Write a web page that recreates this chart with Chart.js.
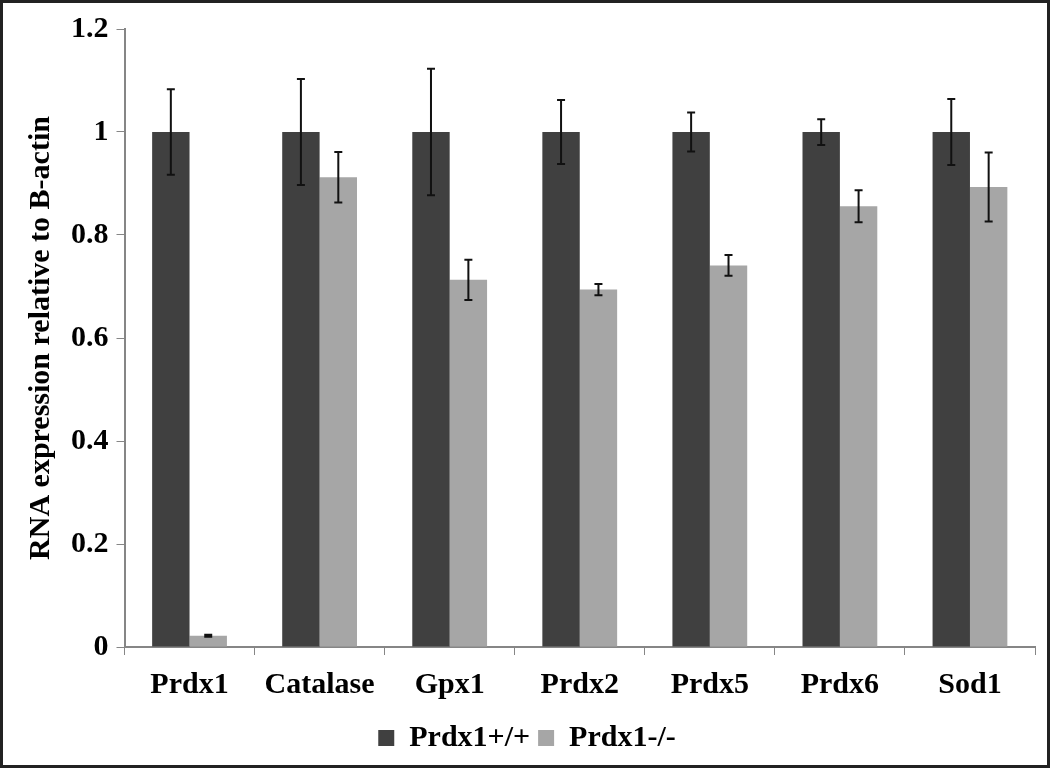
<!DOCTYPE html>
<html>
<head>
<meta charset="utf-8">
<script src="https://cdn.jsdelivr.net/npm/chart.js@4"></script>
<style>
  html, body { margin: 0; padding: 0; background: #fff; }
  #wrap { width: 1050px; height: 768px; box-sizing: border-box; border: 3px solid #222; position: relative; }
  canvas { display: block; }
</style>
</head>
<body>
<div id="wrap"><canvas id="barras" width="1044" height="762"></canvas></div>
<script>
// datos
const genes = ['Prdx1', 'Catalase', 'Gpx1', 'Prdx2', 'Prdx5', 'Prdx6', 'Sod1'];
const wildType = [1, 1, 1, 1, 1, 1, 1];
const wildTypeErr = [0.083, 0.103, 0.123, 0.062, 0.038, 0.025, 0.064];
const knockOut = [0.022, 0.912, 0.713, 0.694, 0.741, 0.856, 0.893];
const knockOutErr = [0.002, 0.049, 0.039, 0.011, 0.020, 0.031, 0.067];
const yTicks = [0, 0.2, 0.4, 0.6, 0.8, 1, 1.2];

// barras de error
const errorBars = {
  id: 'errorBars',
  afterDatasetsDraw(chart) {
    const ctx = chart.ctx;
    const y = chart.scales.y;
    const errs = [wildTypeErr, knockOutErr];
    ctx.save();
    ctx.strokeStyle = '#111';
    ctx.lineWidth = 2;
    chart.data.datasets.forEach((ds, i) => {
      chart.getDatasetMeta(i).data.forEach((bar, j) => {
        const v = ds.data[j], e = errs[i][j];
        const top = y.getPixelForValue(v + e);
        const bot = y.getPixelForValue(v - e);
        ctx.beginPath();
        ctx.moveTo(bar.x, top); ctx.lineTo(bar.x, bot);
        ctx.moveTo(bar.x - 4, top); ctx.lineTo(bar.x + 4, top);
        ctx.moveTo(bar.x - 4, bot); ctx.lineTo(bar.x + 4, bot);
        ctx.stroke();
      });
    });
    ctx.restore();
  }
};

const font = { family: '"Liberation Serif", "Times New Roman", serif', weight: 'bold', size: 30 };

new Chart(document.getElementById('barras'), {
  type: 'bar',
  data: {
    labels: genes,
    datasets: [
      { label: 'Prdx1+/+', data: wildType, backgroundColor: '#404040', barPercentage: 1, categoryPercentage: 0.575 },
      { label: 'Prdx1-/-', data: knockOut, backgroundColor: '#a6a6a6', barPercentage: 1, categoryPercentage: 0.575 }
    ]
  },
  options: {
    responsive: false,
    animation: false,
    layout: { padding: { top: 20, right: 12, left: 16, bottom: 2 } },
    plugins: {
      legend: {
        position: 'bottom',
        labels: { font: font, color: '#000', boxWidth: 16, boxHeight: 16, padding: 8 }
      },
      tooltip: { enabled: false }
    },
    scales: {
      x: {
        grid: { display: true, drawOnChartArea: false, color: '#868686', tickLength: 8 },
        border: { color: '#868686', width: 2 },
        ticks: { font: font, color: '#000', padding: 12 }
      },
      y: {
        min: 0, max: 1.2,
        afterBuildTicks: (axis) => { axis.ticks = yTicks.map(v => ({ value: v })); },
        grid: { display: true, drawOnChartArea: false, color: '#868686', tickLength: 8 },
        border: { color: '#868686', width: 2 },
        ticks: { font: font, color: '#000', padding: 8, callback: (v) => String(v) },
        title: { display: true, text: 'RNA expression relative to B-actin', font: font, color: '#000', padding: 4 }
      }
    }
  },
  plugins: [errorBars]
});
</script>
</body>
</html>
